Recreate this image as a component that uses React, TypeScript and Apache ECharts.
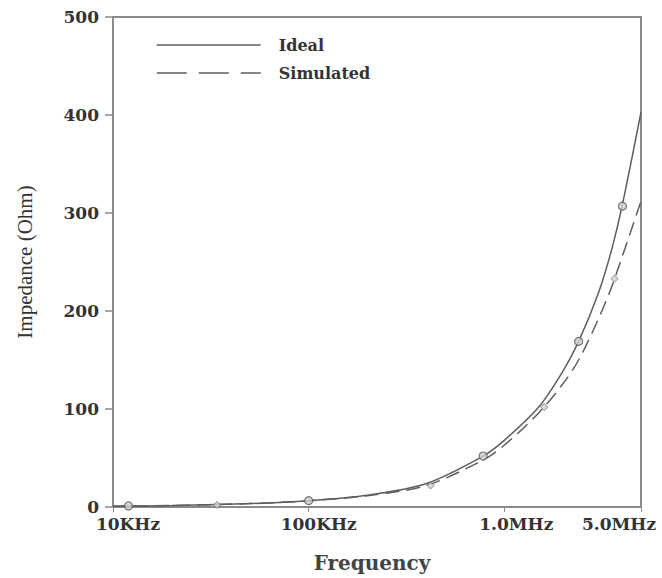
import React, { useEffect, useRef } from "react";
import * as echarts from "echarts";

// Frequencies (Hz) sampled along the curves
const frequencies = [1e4, 2e4, 5e4, 1e5, 2e5, 4e5, 7.8e5, 1e6, 1.5e6, 2e6, 2.4e6, 3e6, 3.5e6, 4e6, 5e6];
const idealValues = [0.8, 1.5, 3.5, 6.5, 12, 24, 52, 68, 102, 139, 169, 216, 259, 307, 403];
const simulatedValues = [0.8, 1.5, 3.5, 6.3, 11.5, 22, 48, 63, 96, 126, 150, 190, 222, 255, 312];

// Marker points
const idealMarkerFreqs = [1.2e4, 1e5, 7.8e5, 2.4e6, 4.02e6];
const idealMarkerValues = [1, 6.5, 52, 169, 307];
const simulatedMarkerFreqs = [3.4e4, 4.2e5, 1.6e6, 3.66e6];
const simulatedMarkerValues = [2, 22, 102, 233];

// Tick labels
const tickValues = [1e4, 1e5, 1e6, 5e6];
const tickLabels = ["10KHz", "100KHz", "1.0MHz", "5.0MHz"];
const tickRich = ["t0", "t1", "t2", "t3"];

const yTicks = [0, 100, 200, 300, 400, 500];

const LINE = "#5e5e5e";
const AXIS = "#8a8a8a";
const TEXT = "#333";
const SERIF_WIDE = "'DejaVu Serif', serif";

export default function App() {
  const ref = useRef<HTMLDivElement>(null);
  useEffect(() => {
    if (!ref.current) return;
    const chart = echarts.init(ref.current, undefined, { renderer: "svg" });
    const zip = (xs: number[], ys: number[]) => xs.map((x, i) => [x, ys[i]]);
    const tickStyle = { fontFamily: SERIF_WIDE, fontWeight: "bold", fontSize: 17, color: TEXT };
    chart.setOption({
      animation: false,
      backgroundColor: "#fff",
      grid: {
        left: 113,
        right: 21,
        top: 17,
        bottom: 70,
        show: true,
        borderColor: AXIS,
        borderWidth: 2,
      },
      legend: {
        orient: "vertical",
        left: 151,
        top: 32,
        itemWidth: 104,
        itemHeight: 14,
        itemGap: 12,
        textStyle: {
          fontFamily: SERIF_WIDE,
          fontWeight: "bold",
          fontSize: 16,
          color: TEXT,
          padding: [0, 0, 0, 13],
        },
        data: [
          { name: "Ideal", itemStyle: { opacity: 0 }, lineStyle: { type: "solid", width: 1.5, color: LINE } },
          { name: "Simulated", itemStyle: { opacity: 0 }, lineStyle: { type: [30, 12], width: 1.5, color: LINE } },
        ],
      },
      xAxis: {
        type: "log",
        logBase: 10,
        min: 1e4,
        max: 5e6,
        name: "Frequency",
        nameLocation: "middle",
        nameGap: 46,
        nameTextStyle: {
          fontFamily: SERIF_WIDE,
          fontSize: 20,
          fontWeight: "bold",
          color: "#444",
          padding: [0, 10, 0, 0],
        },
        axisLine: { lineStyle: { color: AXIS, width: 2 } },
        axisTick: { show: true, length: 5, lineStyle: { color: AXIS } },
        splitLine: { show: false },
        minorTick: { show: false },
        axisLabel: {
          showMinLabel: true,
          showMaxLabel: true,
          margin: 8,
          formatter: (v: number) => {
            for (let i = 0; i < tickValues.length; i++) {
              if (Math.abs(v - tickValues[i]) / tickValues[i] < 0.01) {
                return "{" + tickRich[i] + "|" + tickLabels[i] + "}";
              }
            }
            return "";
          },
          rich: {
            t0: { ...tickStyle, padding: [0, 0, 0, 30] },
            t1: { ...tickStyle, padding: [0, 0, 0, 20] },
            t2: { ...tickStyle, padding: [0, 0, 0, 24] },
            t3: { ...tickStyle, padding: [0, 44, 0, 0] },
          },
        },
      },
      yAxis: {
        type: "value",
        min: yTicks[0],
        max: yTicks[yTicks.length - 1],
        interval: 100,
        name: "Impedance (Ohm)",
        nameLocation: "middle",
        nameGap: 78,
        nameTextStyle: {
          fontFamily: "'Liberation Serif', serif",
          fontSize: 21,
          color: "#333",
        },
        axisLine: { show: true, lineStyle: { color: AXIS, width: 2 } },
        axisTick: { show: true, length: 8, lineStyle: { color: AXIS, width: 1.5 } },
        splitLine: { show: false },
        axisLabel: {
          margin: 14,
          ...tickStyle,
        },
      },
      series: [
        {
          name: "Ideal",
          type: "line",
          data: zip(frequencies, idealValues),
          smooth: 0.3,
          symbol: "none",
          lineStyle: { color: LINE, width: 1.5, type: "solid" },
          itemStyle: { color: LINE },
        },
        {
          name: "Simulated",
          type: "line",
          data: zip(frequencies, simulatedValues),
          smooth: 0.3,
          symbol: "none",
          lineStyle: { color: LINE, width: 1.5, type: [14, 7] },
          itemStyle: { color: LINE },
        },
        {
          name: "IdealMarkers",
          type: "scatter",
          data: zip(idealMarkerFreqs, idealMarkerValues),
          symbol: "circle",
          symbolSize: 8,
          itemStyle: { color: "#cfcfcf", borderColor: "#555", borderWidth: 1.2 },
          z: 3,
        },
        {
          name: "SimulatedMarkers",
          type: "scatter",
          data: zip(simulatedMarkerFreqs, simulatedMarkerValues),
          symbol: "diamond",
          symbolSize: 7,
          itemStyle: { color: "#d5d5d5", borderColor: "#666", borderWidth: 1 },
          z: 3,
        },
      ],
    });
    return () => chart.dispose();
  }, []);
  return <div ref={ref} style={{ width: 662, height: 578, position: "absolute", left: 0, top: 0 }} />;
}
